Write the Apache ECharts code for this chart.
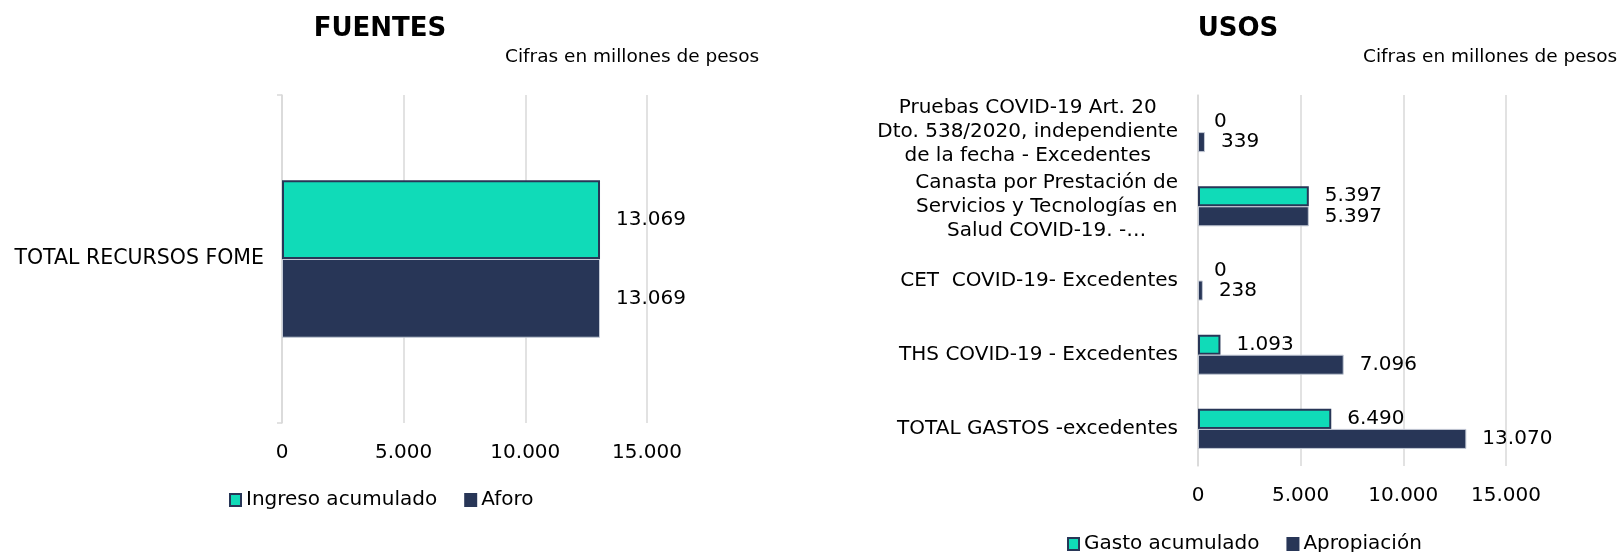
<!DOCTYPE html>
<html>
<head>
<meta charset="utf-8">
<title>Fuentes y Usos</title>
<script src="https://cdn.jsdelivr.net/npm/echarts@6/dist/echarts.min.js"></script>
<style>
  html, body { margin: 0; padding: 0; background: #fff; }
  #main { width: 1621px; height: 552px; }
</style>
</head>
<body>
<div id="main"></div>
<script>
// datos - FUENTES
var fuentesCategorias = ['TOTAL RECURSOS FOME']
var ingresoAcumulado = [13069]
var aforo = [13069]

// datos - USOS (de arriba hacia abajo)
var usosCategorias = [
  'Pruebas COVID-19 Art. 20\nDto. 538/2020, independiente\nde la fecha - Excedentes',
  'Canasta por Prestación de\nServicios y Tecnologías en\nSalud COVID-19. -…',
  'CET  COVID-19- Excedentes',
  'THS COVID-19 - Excedentes',
  'TOTAL GASTOS -excedentes'
]
var gastoAcumulado = [0, 5397, 0, 1093, 6490]
var apropiacion = [339, 5397, 238, 7096, 13070]

var ejeTicks = [0, 5000, 10000, 15000]

var TEAL = '#10dbb8'
var NAVY = '#283657'
var GRID = '#d9d9d9'
var FONT = 'Verdana, "DejaVu Sans", sans-serif'

function miles(v) {
  return String(v).replace(/\B(?=(\d{3})+(?!\d))/g, '.')
}

function ejeX(idx) {
  return {
    type: 'value',
    gridIndex: idx,
    min: ejeTicks[0],
    max: ejeTicks[ejeTicks.length - 1],
    interval: ejeTicks[1] - ejeTicks[0],
    axisLine: { show: false },
    axisTick: { show: false },
    splitLine: { lineStyle: { color: GRID, width: 1.5 } },
    axisLabel: { color: '#000', fontSize: 20, margin: 20, formatter: miles }
  }
}

function barra(name, data, color, idx, gap) {
  return {
    name: name,
    type: 'bar',
    xAxisIndex: idx,
    yAxisIndex: idx,
    // sin borde en las barras de valor 0
    data: data.map(function (v) {
      return v === 0 ? { value: 0, itemStyle: { borderWidth: 0 } } : v
    }),
    barGap: '0%',
    barCategoryGap: gap,
    itemStyle: color === TEAL
      ? { color: TEAL, borderColor: NAVY, borderWidth: 2 }
      : { color: NAVY, borderColor: '#c3c9d5', borderWidth: 1 },
    label: {
      show: true,
      position: 'right',
      distance: 16,
      color: '#000',
      fontSize: 20,
      formatter: function (p) { return miles(p.value) }
    }
  }
}

function leyenda(nombres, left, top) {
  return {
    data: [
      { name: nombres[0] },
      { name: nombres[1], itemStyle: { borderColor: NAVY } }
    ],
    left: left, top: top, padding: 0,
    icon: 'rect', itemWidth: 11, itemHeight: 12, itemGap: 27,
    textStyle: { fontSize: 20, color: '#000' }
  }
}

var myChart = echarts.init(document.getElementById('main'))
myChart.setOption({
  animation: false,
  textStyle: { fontFamily: FONT },
  title: [
    { text: 'FUENTES', left: 380, top: 16, textAlign: 'center', padding: 0,
      textStyle: { fontSize: 26, fontWeight: 'bold', color: '#000' } },
    { text: 'Cifras en millones de pesos', left: 505, top: 48, padding: 0,
      textStyle: { fontSize: 18.5, fontWeight: 'normal', color: '#000' } },
    { text: 'USOS', left: 1238, top: 16, textAlign: 'center', padding: 0,
      textStyle: { fontSize: 26, fontWeight: 'bold', color: '#000' } },
    { text: 'Cifras en millones de pesos', left: 1363, top: 48, padding: 0,
      textStyle: { fontSize: 18.5, fontWeight: 'normal', color: '#000' } }
  ],
  legend: [
    leyenda(['Ingreso acumulado', 'Aforo'], 229, 490),
    leyenda(['Gasto acumulado', 'Apropiación'], 1067, 534)
  ],
  grid: [
    { left: 282, top: 95, width: 365, height: 328, outerBoundsMode: 'none' },
    { left: 1198, top: 95, width: 308, height: 371, outerBoundsMode: 'none' }
  ],
  xAxis: [ejeX(0), ejeX(1)],
  yAxis: [
    {
      type: 'category',
      gridIndex: 0,
      data: fuentesCategorias,
      axisLine: { show: true, lineStyle: { color: GRID, width: 1.5 } },
      axisTick: { show: true, length: 5, lineStyle: { color: GRID, width: 1.5 } },
      axisLabel: { color: '#000', fontSize: 20.5, margin: 18 }
    },
    {
      type: 'category',
      gridIndex: 1,
      inverse: true,
      data: usosCategorias,
      axisLine: { show: true, lineStyle: { color: GRID, width: 1.5 } },
      axisTick: { show: false },
      axisLabel: {
        color: '#000',
        fontSize: 20,
        margin: 20,
        formatter: function (v) {
          return v.split('\n').map(function (l) { return '{c|' + l + '}' }).join('\n')
        },
        rich: { c: { align: 'center', fontSize: 20, lineHeight: 24, color: '#000' } }
      }
    }
  ],
  series: [
    barra('Ingreso acumulado', ingresoAcumulado, TEAL, 0, '52%'),
    barra('Aforo', aforo, NAVY, 0, '52%'),
    barra('Gasto acumulado', gastoAcumulado, TEAL, 1, '46%'),
    barra('Apropiación', apropiacion, NAVY, 1, '46%')
  ]
})
</script>
</body>
</html>
